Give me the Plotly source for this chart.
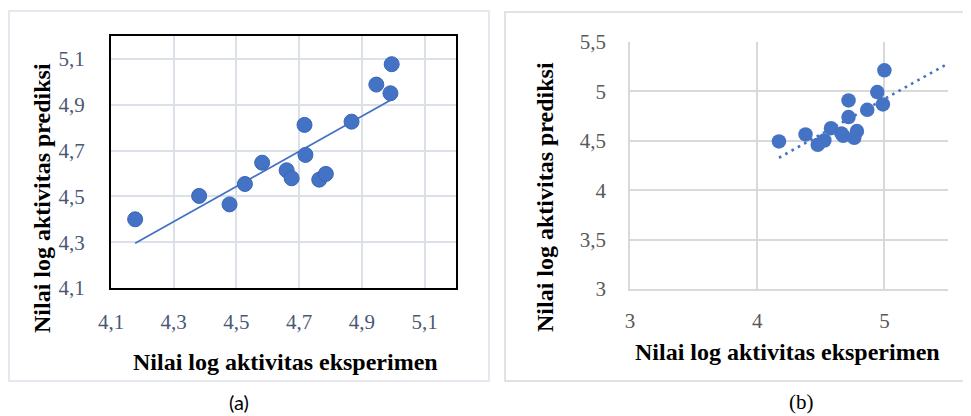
import numpy as np
import plotly.graph_objects as go

# ---- data ----
exp_a = [4.177, 4.381, 4.478, 4.527, 4.582, 4.660, 4.676, 4.717, 4.720, 4.764, 4.785, 4.867, 4.946, 4.991, 4.995]
pred_a = [4.400, 4.502, 4.465, 4.554, 4.647, 4.614, 4.579, 4.812, 4.681, 4.573, 4.598, 4.826, 4.988, 4.950, 5.077]

exp_b = [4.171, 4.380, 4.476, 4.528, 4.580, 4.662, 4.676, 4.718, 4.718, 4.763, 4.784, 4.865, 4.944, 4.988, 5.000]
pred_b = [4.493, 4.564, 4.459, 4.503, 4.628, 4.575, 4.550, 4.909, 4.740, 4.530, 4.598, 4.814, 4.993, 4.868, 5.213]
trend_b_forecast_to = 5.5

ticks_a = [4.1, 4.3, 4.5, 4.7, 4.9, 5.1]
ticklabels_a = ["4,1", "4,3", "4,5", "4,7", "4,9", "5,1"]
xticks_b = [3, 4, 5]
xticklabels_b = ["3", "4", "5"]
yticks_b = [3, 3.5, 4, 4.5, 5, 5.5]
yticklabels_b = ["3", "3,5", "4", "4,5", "5", "5,5"]

x_title = "Nilai log aktivitas eksperimen"
y_title = "Nilai log aktivitas prediksi"
captions = ["(a)", "(b)"]

BLUE = "#4472C4"
OFF = 8  # page body margin
W, H = 971 - OFF, 416 - OFF
SERIF = "Liberation Serif, Times New Roman, serif"

def px(x):
    return (x - OFF) / W

def py(y):
    return 1 - (y - OFF) / H

# trendlines from linear regression
ka, ba = np.polyfit(exp_a, pred_a, 1)
ta_x = [min(exp_a), max(exp_a)]
ta_y = [ka * v + ba for v in ta_x]
kb, bb = np.polyfit(exp_b, pred_b, 1)
tb_x = [min(exp_b), trend_b_forecast_to]
tb_y = [kb * v + bb for v in tb_x]

fig = go.Figure()
fig.add_trace(go.Scatter(x=ta_x, y=ta_y, mode="lines", line=dict(color=BLUE, width=1.8),
                         xaxis="x", yaxis="y", showlegend=False, hoverinfo="skip"))
fig.add_trace(go.Scatter(x=exp_a, y=pred_a, mode="markers",
                         marker=dict(size=15, color=BLUE, line=dict(color="#3A66B5", width=1)),
                         xaxis="x", yaxis="y", showlegend=False))
fig.add_trace(go.Scatter(x=tb_x, y=tb_y, mode="lines",
                         line=dict(color=BLUE, width=2.6, dash="2.6px,4.6px"),
                         xaxis="x2", yaxis="y2", showlegend=False, hoverinfo="skip"))
fig.add_trace(go.Scatter(x=exp_b, y=pred_b, mode="markers",
                         marker=dict(size=14.5, color=BLUE, line=dict(width=0)),
                         xaxis="x2", yaxis="y2", showlegend=False))

tick_a_font = dict(family=SERIF, size=21, color="#4A5874")
tick_b_font = dict(family=SERIF, size=21, color="#595959")
title_font = dict(family=SERIF, size=24, color="#000000")

fig.update_layout(
    template="none",
    width=W, height=H,
    font=dict(family=SERIF),
    margin=dict(l=0, r=0, t=0, b=0, pad=0),
    paper_bgcolor="white", plot_bgcolor="white",
    xaxis=dict(domain=[px(111), px(456)], range=[4.1, 5.2], anchor="y", automargin=False,
               tickvals=ticks_a, ticktext=ticklabels_a, ticks="", ticklabelstandoff=14,
               tickfont=tick_a_font, showgrid=True, gridcolor="#DCE1E9", gridwidth=2,
               zeroline=False, showline=True, linecolor="black", linewidth=2, mirror=True),
    yaxis=dict(domain=[py(288), py(36)], range=[4.1, 5.2], anchor="x", automargin=False,
               tickvals=ticks_a, ticktext=ticklabels_a, ticks="", ticklabelstandoff=20,
               tickfont=tick_a_font, showgrid=True, gridcolor="#DCE1E9", gridwidth=2,
               zeroline=False, showline=True, linecolor="black", linewidth=2, mirror=True),
    xaxis2=dict(domain=[px(630), px(948)], range=[3, 5.5], anchor="y2", automargin=False,
                tickvals=xticks_b, ticktext=xticklabels_b, ticks="", ticklabelstandoff=12,
                tickfont=tick_b_font, showgrid=True, gridcolor="#D9D9D9", gridwidth=1.6,
                zeroline=False, showline=True, linecolor="#D9D9D9", linewidth=1.6),
    yaxis2=dict(domain=[py(289), py(42)], range=[3, 5.5], anchor="x2", automargin=False,
                tickvals=yticks_b, ticktext=yticklabels_b, ticks="", ticklabelstandoff=18,
                tickfont=tick_b_font, showgrid=True, gridcolor="#D9D9D9", gridwidth=1.6,
                zeroline=False, showline=True, linecolor="#D9D9D9", linewidth=1.6),
    shapes=[
        dict(type="rect", xref="paper", yref="paper", x0=px(9), x1=px(489), y0=py(381), y1=py(11),
             line=dict(color="#DDE2EA", width=1.5), fillcolor="rgba(0,0,0,0)", layer="below"),
        dict(type="rect", xref="paper", yref="paper", x0=px(505), x1=px(975), y0=py(381), y1=py(12),
             line=dict(color="#D9D9D9", width=1.5), fillcolor="rgba(0,0,0,0)", layer="below"),
    ],
    annotations=[
        dict(text="<b>" + x_title + "</b>", xref="paper", yref="paper", x=px(285), y=py(362),
             showarrow=False, font=title_font, xanchor="center", yanchor="middle"),
        dict(text="<b>" + y_title + "</b>", xref="paper", yref="paper", x=px(42), y=py(198),
             showarrow=False, font=title_font, textangle=-90, xanchor="center", yanchor="middle"),
        dict(text="<b>" + x_title + "</b>", xref="paper", yref="paper", x=px(787), y=py(352),
             showarrow=False, font=title_font, xanchor="center", yanchor="middle"),
        dict(text="<b>" + y_title + "</b>", xref="paper", yref="paper", x=px(545), y=py(197),
             showarrow=False, font=title_font, textangle=-90, xanchor="center", yanchor="middle"),
        dict(text=captions[0], xref="paper", yref="paper", x=px(239), y=py(402),
             showarrow=False, font=dict(family="Lato", size=20, color="black"),
             xanchor="center", yanchor="middle"),
        dict(text=captions[1], xref="paper", yref="paper", x=px(801), y=py(402),
             showarrow=False, font=dict(family=SERIF, size=21, color="black"),
             xanchor="center", yanchor="middle"),
    ],
)

fig.write_html("out.html")
